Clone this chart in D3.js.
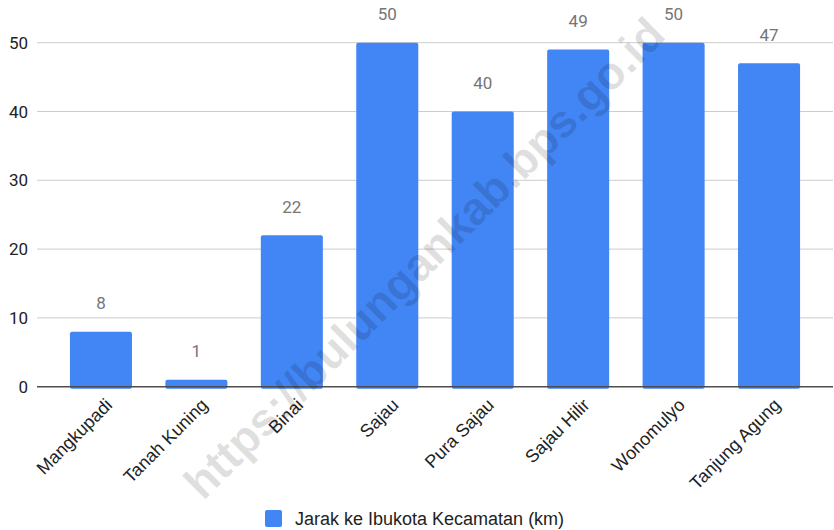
<!DOCTYPE html>
<html>
<head>
<meta charset="utf-8">
<script src="https://cdn.jsdelivr.net/npm/d3@7"></script>
<style>
  html, body { margin: 0; padding: 0; background: #fff; }
  svg { display: block; }
</style>
</head>
<body>
<svg id="chart" width="834" height="530"></svg>
<script>
const categories = ["Mangkupadi", "Tanah Kuning", "Binai", "Sajau", "Pura Sajau", "Sajau Hilir", "Wonomulyo", "Tanjung Agung"];
const values = [8, 1, 22, 50, 40, 49, 50, 47];
const yTicks = [0, 10, 20, 30, 40, 50];
const seriesName = "Jarak ke Ibukota Kecamatan (km)";
const watermark = "https://bulungankab.bps.go.id";

const W = 834, H = 530;
const svg = d3.select("#chart");

const x = d3.scaleBand().domain(categories).range([37, 833]).paddingInner(0.35).paddingOuter(0.345);
const y = d3.scaleLinear().domain([0, 50]).range([386.7, 42.7]);

// gridlines
svg.append("g").selectAll("line").data(yTicks.filter(d => d !== 0)).join("line")
  .attr("x1", 37).attr("x2", 833)
  .attr("y1", d => y(d)).attr("y2", d => y(d))
  .attr("stroke", "#cccccc").attr("stroke-width", 1);

// y tick labels
svg.append("g").selectAll("text").data(yTicks).join("text")
  .attr("x", 28).attr("y", d => y(d)).attr("dy", "0.36em")
  .attr("text-anchor", "end")
  .attr("font-family", "Roboto, Arial, sans-serif").attr("font-size", 17)
  .attr("fill", "#222").text(d => d);

// bars
svg.append("g").selectAll("rect").data(values).join("rect")
  .attr("x", (d, i) => x(categories[i]))
  .attr("y", d => y(d))
  .attr("width", x.bandwidth())
  .attr("height", d => y(0) - y(d) + 2)
  .attr("rx", 2)
  .attr("fill", "#4285F4");

// value labels
svg.append("g").selectAll("text").data(values).join("text")
  .attr("x", (d, i) => x(categories[i]) + x.bandwidth() / 2)
  .attr("y", d => y(d) - 22.5)
  .attr("text-anchor", "middle")
  .attr("font-family", "Roboto, Arial, sans-serif").attr("font-size", 17)
  .attr("fill", "#757575").text(d => d);

// baseline
svg.append("line")
  .attr("x1", 37).attr("x2", 833).attr("y1", y(0)).attr("y2", y(0))
  .attr("stroke", "#4d4d4d").attr("stroke-width", 1.6);

// x labels
svg.append("g").selectAll("text").data(categories).join("text")
  .attr("transform", d => `translate(${x(d) + x.bandwidth() / 2 + 8},${y(0) + 15}) rotate(-45)`)
  .attr("text-anchor", "end").attr("dy", "0.35em")
  .attr("font-family", "Arial, 'Liberation Sans', sans-serif").attr("font-size", 18)
  .attr("fill", "#222").text(d => d);

// legend
const lg = svg.append("g");
lg.append("rect").attr("x", 265).attr("y", 510).attr("width", 17).attr("height", 17).attr("rx", 2).attr("fill", "#4285F4");
lg.append("text").attr("x", 295).attr("y", 525)
  .attr("font-family", "Arial, 'Liberation Sans', sans-serif").attr("font-size", 18)
  .attr("fill", "#222").text(seriesName);

// watermark
svg.append("text")
  .attr("transform", "translate(424,258) rotate(-45)")
  .attr("text-anchor", "middle").attr("dy", "0.35em")
  .attr("font-family", "Arial, 'Liberation Sans', sans-serif").attr("font-weight", "bold").attr("font-size", 46)
  .attr("fill", "#000").attr("fill-opacity", 0.12)
  .text(watermark);
</script>
</body>
</html>
